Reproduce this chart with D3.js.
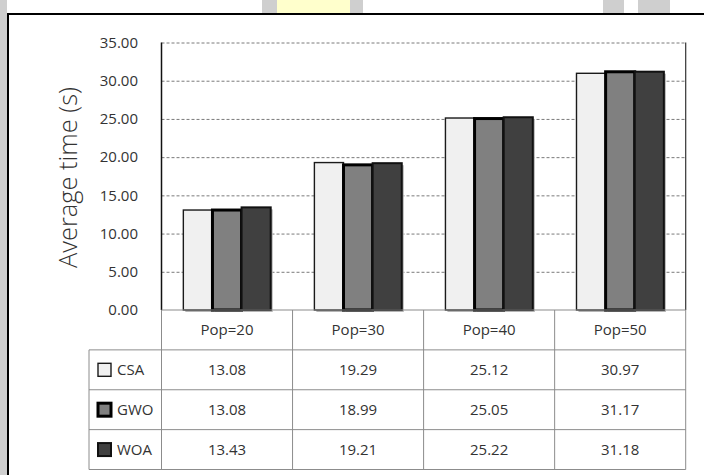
<!DOCTYPE html>
<html>
<head>
<meta charset="utf-8">
<script src="https://cdn.jsdelivr.net/npm/d3@7"></script>
<style>
  html, body { margin: 0; padding: 0; background: #ffffff; overflow: hidden; }
  svg { display: block; }
  text { font-family: "Open Sans", "Noto Sans", sans-serif; fill: #333; }
</style>
</head>
<body>
<svg id="chart" width="704" height="475"></svg>
<script>
// Average run time per population size for each optimiser
const categories = ["Pop=20", "Pop=30", "Pop=40", "Pop=50"];
const seriesNames = ["CSA", "GWO", "WOA"];
const csaValues = [13.08, 19.29, 25.12, 30.97];
const gwoValues = [13.08, 18.99, 25.05, 31.17];
const woaValues = [13.43, 19.21, 25.22, 31.18];
const yTicks = [0, 5, 10, 15, 20, 25, 30, 35];
const yTitle = "Average time (s)";

const seriesValues = [csaValues, gwoValues, woaValues];
const seriesStyle = {
  CSA: { fill: "#f0f0f0", stroke: "#1a1a1a", width: 1.4 },
  GWO: { fill: "#808080", stroke: "#000000", width: 3 },
  WOA: { fill: "#404040", stroke: "#111111", width: 2 }
};
const fontSize = 15;

const svg = d3.select("#chart");

// page decoration: side strip and top tabs behind the frame
const deco = svg.append("g");
deco.append("rect").attr("x", 0).attr("y", 0).attr("width", 7).attr("height", 475).attr("fill", "#cfcfcf");
[[262, 15, "#cfcfcf"], [277, 73, "#ffffcc"], [350, 13, "#cfcfcf"], [603, 21, "#cfcfcf"], [638, 32, "#cfcfcf"]]
  .forEach(([x, w, c]) => deco.append("rect").attr("x", x).attr("y", 0).attr("width", w).attr("height", 13).attr("fill", c));

// frame (top and left edges)
svg.append("path").attr("d", "M8,475 V14 H704")
  .attr("fill", "none").attr("stroke", "#000").attr("stroke-width", 2);

const plotLeft = 161.5, plotRight = 685.7, plotTop = 42.5, plotBottom = 310;
const tableBottom = 469.5, legendLeft = 89;

const x0 = d3.scaleBand().domain(categories).range([plotLeft, plotRight]).paddingInner(0).paddingOuter(0);
const x1 = d3.scaleBand().domain(seriesNames).range([0, x0.bandwidth()]).paddingInner(0).paddingOuter(0.75);
const y = d3.scaleLinear().domain([0, 35]).range([plotBottom, plotTop]);
const rowScale = d3.scaleBand().domain(["header"].concat(seriesNames)).range([plotBottom, tableBottom]);

// gridlines
const grid = svg.append("g")
  .attr("transform", `translate(${plotLeft},0)`)
  .call(d3.axisLeft(y).tickValues(yTicks.filter(t => t > 0)).tickSize(-(plotRight - plotLeft)).tickFormat(""));
grid.select(".domain").remove();
grid.selectAll(".tick line").attr("stroke", "#7a7a7a").attr("stroke-dasharray", "3,2").attr("stroke-width", 1);

// y tick labels
const yAxis = svg.append("g")
  .attr("transform", `translate(138,0)`)
  .call(d3.axisLeft(y).tickValues(yTicks).tickSize(0).tickPadding(0).tickFormat(d3.format(".2f")));
yAxis.select(".domain").remove();
yAxis.selectAll("text").attr("font-size", fontSize).attr("fill", "#333").style("font-family", "'Open Sans', sans-serif");

// axis title
svg.append("text")
  .attr("transform", `translate(77,177.5) rotate(-90)`)
  .attr("text-anchor", "middle")
  .attr("font-size", 25)
  .attr("font-weight", 300)
  .attr("fill", "#222")
  .attr("textLength", 181)
  .attr("lengthAdjust", "spacingAndGlyphs")
  .text(yTitle);

// bars
const groups = svg.append("g").selectAll("g")
  .data(categories)
  .join("g")
  .attr("transform", d => `translate(${x0(d)},0)`);

const barData = (cat, i) => seriesNames.map((s, k) => ({ s, v: seriesValues[k][i] }));

// soft drop shadow under the bars
groups.selectAll("rect.shadow")
  .data((d, i) => barData(d, i))
  .join("rect")
  .attr("class", "shadow")
  .attr("x", d => x1(d.s) + 2)
  .attr("y", d => y(d.v) + 2)
  .attr("width", x1.bandwidth())
  .attr("height", d => plotBottom - y(d.v))
  .attr("fill", "#b5b5b5");

groups.selectAll("rect.bar")
  .data((d, i) => barData(d, i))
  .join("rect")
  .attr("class", "bar")
  .attr("x", d => x1(d.s))
  .attr("y", d => y(d.v))
  .attr("width", x1.bandwidth())
  .attr("height", d => plotBottom - y(d.v))
  .attr("fill", d => seriesStyle[d.s].fill)
  .attr("stroke", d => seriesStyle[d.s].stroke)
  .attr("stroke-width", d => seriesStyle[d.s].width);

// plot borders
svg.append("line").attr("x1", plotLeft).attr("x2", plotLeft).attr("y1", plotTop).attr("y2", plotBottom)
  .attr("stroke", "#111").attr("stroke-width", 1.5);
svg.append("line").attr("x1", plotRight).attr("x2", plotRight).attr("y1", plotTop).attr("y2", plotBottom)
  .attr("stroke", "#333").attr("stroke-width", 1.2);

// data table grid
const tableColor = "#8c8c8c";
const table = svg.append("g");
table.append("line").attr("x1", plotLeft).attr("x2", plotRight).attr("y1", plotBottom).attr("y2", plotBottom)
  .attr("stroke", tableColor).attr("stroke-width", 1.2);
seriesNames.forEach(s => {
  table.append("line").attr("x1", legendLeft).attr("x2", plotRight)
    .attr("y1", rowScale(s)).attr("y2", rowScale(s)).attr("stroke", tableColor).attr("stroke-width", 1);
});
table.append("line").attr("x1", legendLeft).attr("x2", plotRight).attr("y1", tableBottom).attr("y2", tableBottom)
  .attr("stroke", tableColor).attr("stroke-width", 1.2);
table.append("line").attr("x1", legendLeft).attr("x2", legendLeft).attr("y1", rowScale("CSA")).attr("y2", tableBottom)
  .attr("stroke", tableColor).attr("stroke-width", 1);
categories.concat([null]).forEach(c => {
  const xv = c === null ? plotRight : x0(c);
  table.append("line").attr("x1", xv).attr("x2", xv).attr("y1", plotBottom).attr("y2", tableBottom)
    .attr("stroke", tableColor).attr("stroke-width", 1);
});

// category header
table.selectAll("text.cat")
  .data(categories)
  .join("text")
  .attr("class", "cat")
  .attr("x", d => x0(d) + x0.bandwidth() / 2)
  .attr("y", rowScale("header") + rowScale.bandwidth() / 2)
  .attr("dy", "0.35em")
  .attr("text-anchor", "middle")
  .attr("font-size", fontSize)
  .text(d => d);

// legend keys and values
seriesNames.forEach((s, k) => {
  const cy = rowScale(s) + rowScale.bandwidth() / 2;
  const st = seriesStyle[s];
  table.append("rect")
    .attr("x", 98).attr("y", cy - 6.5).attr("width", 13).attr("height", 13)
    .attr("fill", st.fill).attr("stroke", st.stroke).attr("stroke-width", st.width);
  table.append("text")
    .attr("x", 117).attr("y", cy).attr("dy", "0.35em")
    .attr("font-size", fontSize).text(s);
  table.selectAll(null)
    .data(seriesValues[k])
    .join("text")
    .attr("x", (d, i) => x0(categories[i]) + x0.bandwidth() / 2)
    .attr("y", cy).attr("dy", "0.35em")
    .attr("text-anchor", "middle")
    .attr("font-size", fontSize)
    .text(d => d.toFixed(2));
});
</script>
</body>
</html>
